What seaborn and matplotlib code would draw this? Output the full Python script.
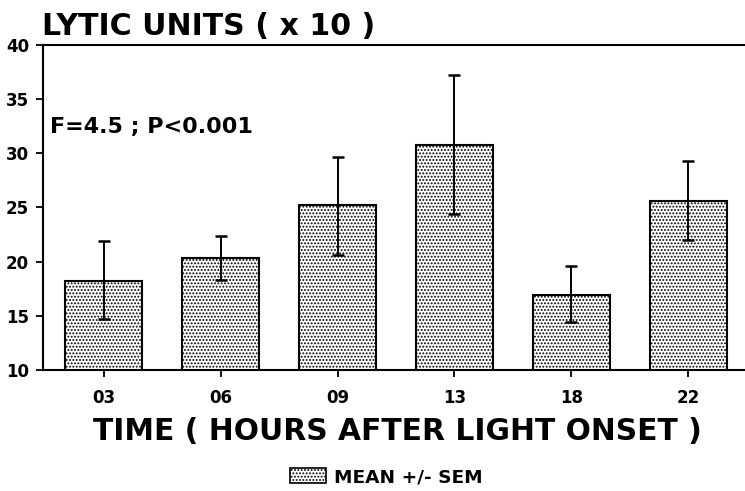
import matplotlib
matplotlib.use("Agg")
import matplotlib.pyplot as plt
import seaborn as sns
import pandas as pd
import numpy as np
from matplotlib.patches import Patch

categories = ["03", "06", "09", "13", "18", "22"]
means = [18.2, 20.3, 25.2, 30.8, 16.9, 25.6]
upper = [21.9, 22.4, 29.7, 37.2, 19.6, 29.3]
lower = [14.7, 18.3, 20.6, 24.4, 14.4, 22.0]
yticks = [10, 15, 20, 25, 30, 35, 40]

sns.set_theme(style="ticks")
plt.rcParams['font.family'] = ['DejaVu Sans']
plt.rcParams['hatch.linewidth'] = 0.9
for k in ['text.color', 'axes.labelcolor', 'xtick.color', 'ytick.color',
          'xtick.labelcolor', 'ytick.labelcolor', 'axes.edgecolor']:
    plt.rcParams[k] = 'black'

df = pd.DataFrame({"time": categories, "value": means})

fig = plt.figure(figsize=(7.45, 4.91), dpi=100)
ax = fig.add_axes([43/745, 121/491, 1 - 43/745 + 0.01, (370-45)/491])

sns.barplot(data=df, x="time", y="value", color="white", edgecolor="black",
            linewidth=1.5, width=0.66, errorbar=None, ax=ax)
for p in ax.patches:
    p.set_hatch(".....")
    p.set_facecolor("white")
    p.set_edgecolor("black")

xs = [p.get_x() + p.get_width()/2 for p in ax.patches]
yerr = np.array([[m - l for m, l in zip(means, lower)],
                 [u - m for m, u in zip(means, upper)]])
ax.errorbar(xs, means, yerr=yerr, fmt="none", ecolor="black", elinewidth=1.4,
            capsize=4.5, capthick=1.8, zorder=5)

ax.set_ylim(10, 40)
ax.set_xlim(-0.52, 5.55)
ax.set_yticks(yticks)
ax.set_yticklabels([str(t) for t in yticks], fontsize=12, fontweight="bold")
ax.set_xticks(range(len(categories)))
ax.set_xticklabels(categories, fontsize=12, fontweight="bold")
ax.tick_params(axis="both", direction="out", length=5, width=1.3, color="black", pad=5)
ax.tick_params(axis="x", pad=9)
for s in ["left", "bottom", "top"]:
    ax.spines[s].set_visible(True)
    ax.spines[s].set_linewidth(1.5)
    ax.spines[s].set_color("black")
ax.spines["right"].set_visible(False)

ax.set_ylabel("")
ax.set_xlabel("TIME ( HOURS AFTER LIGHT ONSET )", fontsize=21.4, fontweight="bold", labelpad=7)

fig.text(42/745, 1 - 35/491, "LYTIC UNITS ( x 10 )", fontsize=21.6, fontweight="bold",
         ha="left", va="baseline")
fig.text(50/745, 1 - 133/491, "F=4.5 ; P<0.001", fontsize=16, fontweight="bold",
         ha="left", va="baseline")

handle = Patch(facecolor="white", edgecolor="black", hatch=".....", linewidth=1.2)
fig.legend([handle], ["MEAN +/- SEM"], loc="center", bbox_to_anchor=(386.5/745, 1 - 477/491),
           frameon=False, prop={"weight": "bold", "size": 13.3},
           handlelength=1.95, handleheight=0.9, handletextpad=0.45,
           borderpad=0.1)

fig.savefig("out.png", dpi=100)
